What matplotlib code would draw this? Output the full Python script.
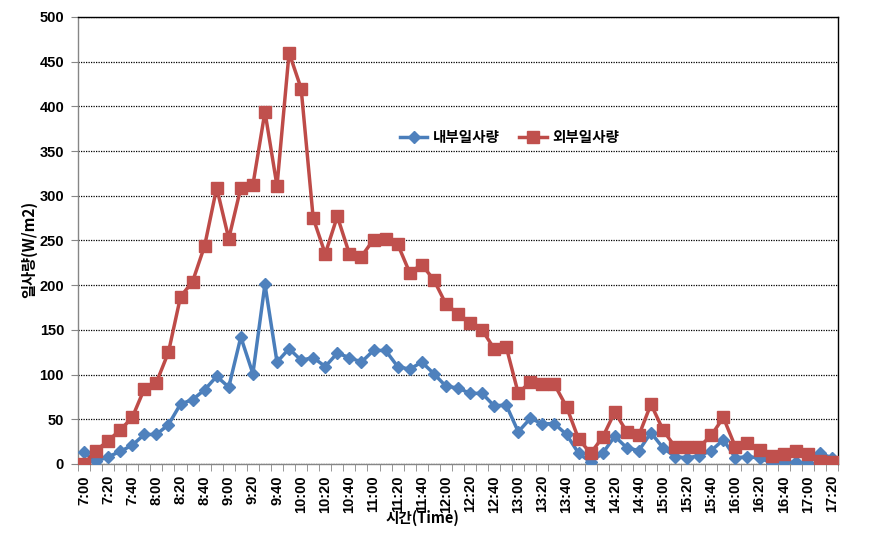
import matplotlib
matplotlib.use("Agg")
import matplotlib.pyplot as plt
from matplotlib.ticker import FixedLocator

plt.rcParams['font.family'] = ['Noto Sans CJK KR', 'DejaVu Sans']

times = []
for h in range(7, 18):
    for m in range(0, 60, 10):
        if h == 17 and m > 20:
            break
        times.append(f"{h}:{m:02d}")

inner = [13, 3, 8, 14, 21, 33,
         33, 44, 67, 72, 83, 98,
         86, 142, 101, 201, 114, 129,
         116, 119, 109, 124, 119, 114,
         127, 127, 109, 106, 114, 101,
         87, 85, 79, 79, 65, 66,
         36, 51, 45, 45, 33, 12,
         2, 12, 31, 18, 15, 35,
         18, 8, 7, 9, 15, 27,
         7, 8, 7, 1, 2, 2,
         1, 12, 7]

outer = [0, 15, 26, 38, 52, 84,
         91, 125, 187, 204, 244, 309,
         252, 309, 312, 394, 311, 460,
         420, 275, 235, 277, 235, 232,
         251, 252, 246, 214, 223, 206,
         179, 168, 158, 150, 129, 131,
         79, 92, 90, 89, 64, 28,
         12, 30, 58, 36, 32, 67,
         38, 19, 19, 19, 32, 52,
         19, 24, 16, 9, 11, 14,
         11, 3, 2]

labels = ["내부일사량", "외부일사량"]
yticks = list(range(0, 501, 50))

fig = plt.figure(figsize=(8.8, 5.5), dpi=100)
ax = fig.add_axes([0.0886, 0.1564, 0.8636, 0.8127])

x = list(range(len(times)))
ax.plot(x, inner, color='#4A7EBB', lw=2.5, marker='D', ms=6,
        mfc='#4F81BD', mec='#4F81BD', label=labels[0], zorder=3)
ax.plot(x, outer, color='#BE4B48', lw=2.5, marker='s', ms=8,
        mfc='#C0504D', mec='#C0504D', label=labels[1], zorder=3)

ax.set_xlim(-0.5, len(times) - 0.5)
ax.set_ylim(0, 500)
ax.set_yticks(yticks)
ax.yaxis.grid(True, linestyle=(0, (1, 1)), color='black', lw=0.9)
ax.set_axisbelow(True)

major = list(range(0, len(times), 2))
ax.set_xticks(major)
ax.set_xticklabels([times[i] for i in major], rotation=90, fontsize=10.5,
                   fontweight='bold', family=['Liberation Sans', 'DejaVu Sans'])
ax.xaxis.set_minor_locator(FixedLocator([i - 0.5 for i in range(len(times) + 1)]))
ax.tick_params(axis='x', which='major', length=0, pad=8)
ax.tick_params(axis='x', which='minor', length=5, color='#868686', direction='out')
ax.tick_params(axis='y', length=5, color='#868686', labelsize=10.5, pad=5)
for t in ax.get_yticklabels():
    t.set_fontweight('bold')
    t.set_family(['Liberation Sans', 'DejaVu Sans'])

ax.spines['left'].set_color('#868686')
ax.spines['bottom'].set_color('#868686')
ax.spines['top'].set_color('black')
ax.spines['right'].set_color('black')
for s in ax.spines.values():
    s.set_linewidth(1.0)

ax.set_ylabel("일사량(W/m2)", fontsize=11, fontweight='bold')
ax.yaxis.set_label_coords(-0.053, 0.481)
fig.text(0.48, 0.058, "시간(Time)", ha='center', va='center', fontsize=10.5, fontweight='bold')

ax.legend(loc='center', bbox_to_anchor=(0.568, 0.731), ncol=2, frameon=False,
          handlelength=1.9, handletextpad=0.4, columnspacing=1.3,
          prop={'weight': 'bold', 'size': 10.5})

fig.savefig("out.png", dpi=100)
